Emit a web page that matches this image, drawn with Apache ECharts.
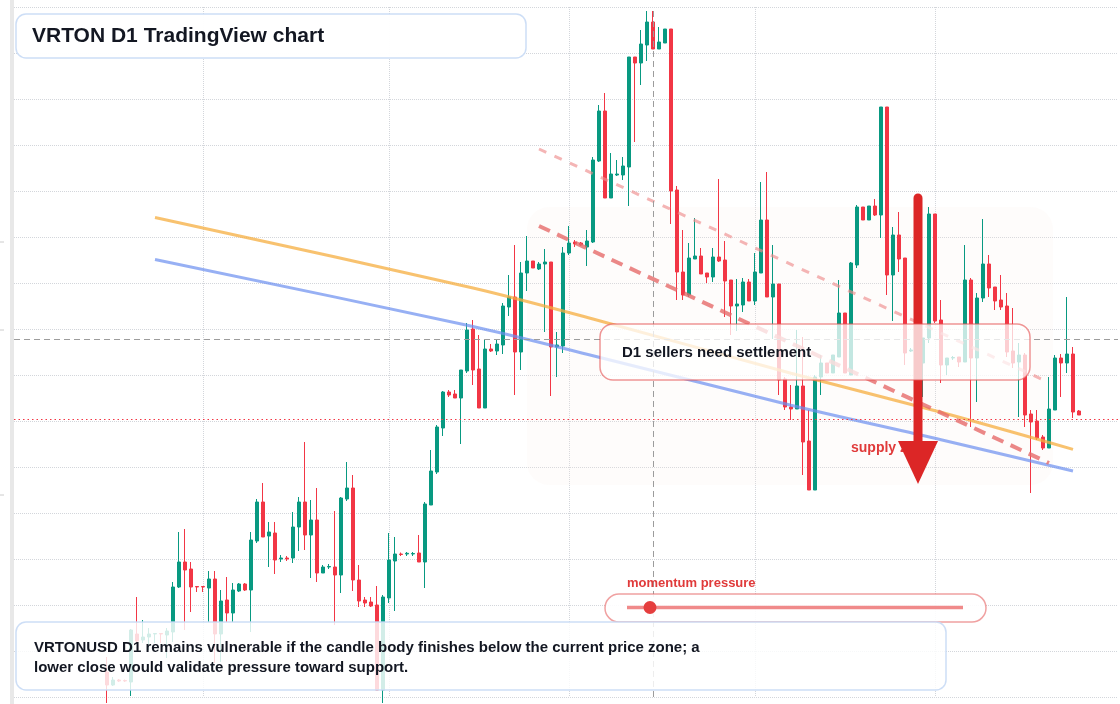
<!DOCTYPE html>
<html><head><meta charset="utf-8">
<script src="https://cdn.jsdelivr.net/npm/echarts/dist/echarts.min.js"></script>
<style>html,body{margin:0;padding:0;background:#fff}#c{width:1120px;height:704px}</style>
</head><body><div id="c"></div>
<script>
// ---- data ----
const axisStart = '2024-07-01';
const axisEnd = '2024-12-31';
const firstCandle = '2024-07-16';
const openP = [.117,.104,.109,.1085,.107,.155,.149,.152,.155,.1555,
.154,.157,.202,.227,.220,.2025,.2025,.201,.210,.155,
.189,.176,.198,.205,.199,.248,.287,.253,.256,.230,
.231,.231,.262,.287,.254,.269,.216,.222,.222,.214,
.290,.301,.209,.189,.187,.184,.099,.191,.228,.235,
.235,.235,.236,.227,.284,.317,.361,.397,.395,.391,
.418,.460,.420,.381,.440,.438,.444,.482,.492,.437,
.516,.528,.520,.525,.527,.442,.443,.536,.547,.546,
.542,.547,.628,.678,.591,.614,.614,.622,.732,.726,
.744,.767,.740,.746,.760,.599,.517,.494,.530,.533,
.516,.512,.532,.529,.509,.483,.484,.507,.488,.516,
.569,.492,.505,.410,.382,.380,.403,.348,.299,.412,
.426,.416,.432,.476,.414,.524,.582,.569,.583,.574,
.682,.514,.554,.531,.438,.437,.426,.451,.575,.469,
.424,.431,.432,.427,.509,.431,.491,.525,.502,.489,
.483,.438,.427,.434,.375,.368,.352,.341,.379,.431,
.426,.435,.378];
const closeP = [.104,.109,.108,.108,.159,.148,.152,.155,.1555,.155,
.158,.202,.227,.219,.202,.202,.202,.210,.155,.188,
.176,.199,.205,.199,.249,.287,.252,.257,.229,.231,
.230,.262,.287,.254,.269,.216,.222,.2225,.214,.291,
.301,.209,.188,.186,.183,.099,.192,.229,.235,.2345,
.2357,.2355,.227,.285,.318,.362,.397,.394,.391,.419,
.459,.419,.381,.440,.438,.445,.483,.492,.437,.516,
.528,.521,.525,.527,.442,.444,.536,.546,.545,.544,
.548,.629,.678,.591,.615,.615,.623,.732,.726,.745,
.767,.740,.747,.760,.598,.517,.494,.531,.533,.515,
.512,.532,.528,.508,.483,.485,.507,.488,.517,.569,
.492,.505,.409,.382,.380,.403,.347,.299,.412,.426,
.416,.434,.476,.416,.526,.582,.569,.583,.574,.682,
.514,.554,.530,.436,.439,.449,.451,.575,.468,.424,
.431,.4315,.427,.509,.431,.491,.525,.501,.488,.482,
.437,.426,.434,.374,.367,.351,.341,.380,.431,.426,
.435,.377,.374];
const lowP = [.086,.103,.107,.107,.093,.146,.146,.139,.146,.146,
.131,.147,.201,.159,.177,.197,.197,.167,.126,.127,
.167,.167,.197,.198,.157,.246,.252,.222,.215,.227,
.228,.226,.238,.239,.211,.207,.216,.220,.164,.196,
.288,.198,.182,.182,.182,.099,.086,.186,.178,.233,
.233,.233,.227,.201,.284,.315,.353,.392,.391,.345,
.416,.404,.381,.381,.437,.434,.435,.473,.394,.419,
.498,.521,.519,.457,.393,.412,.436,.534,.542,.543,
.523,.546,.627,.591,.591,.613,.609,.583,.647,.704,
.728,.740,.740,.746,.565,.489,.489,.492,.530,.515,
.506,.507,.527,.472,.454,.458,.477,.488,.484,.516,
.492,.450,.394,.379,.369,.380,.314,.299,.299,.394,
.416,.416,.432,.416,.414,.521,.569,.569,.573,.551,
.494,.468,.517,.424,.437,.429,.392,.446,.466,.406,
.414,.429,.422,.427,.362,.387,.487,.492,.479,.479,
.432,.421,.372,.362,.296,.349,.339,.341,.379,.392,
.416,.371,.374];
const highP = [.132,.112,.110,.1095,.160,.192,.169,.161,.1555,.156,
.161,.207,.257,.260,.227,.2025,.2025,.218,.218,.199,
.212,.206,.206,.206,.257,.290,.306,.267,.267,.234,
.233,.277,.292,.347,.289,.301,.224,.225,.278,.292,
.327,.314,.224,.192,.192,.203,.194,.256,.252,.2365,
.237,.237,.254,.287,.339,.364,.398,.399,.399,.419,
.466,.469,.454,.450,.445,.450,.486,.514,.544,.527,
.553,.528,.527,.540,.527,.457,.542,.563,.549,.547,
.559,.632,.684,.696,.636,.629,.632,.732,.732,.759,
.778,.778,.762,.760,.760,.603,.559,.546,.571,.541,
.516,.541,.610,.548,.509,.510,.511,.510,.536,.607,
.617,.544,.505,.412,.404,.459,.452,.379,.414,.434,
.426,.434,.509,.476,.527,.584,.582,.583,.590,.682,
.682,.562,.577,.531,.441,.454,.451,.582,.575,.489,
.431,.433,.432,.544,.511,.496,.570,.534,.502,.514,
.496,.481,.446,.436,.379,.379,.354,.412,.434,.435,
.492,.442,.379];

// trend overlays (date, price)
const orangeDates = ['2024-07-24','2024-09-15','2024-10-05','2024-11-07','2024-12-02','2024-12-24'];
const orangeVals  = [0.5715, 0.501, 0.470, 0.4157, 0.3767, 0.3396];
const blueDates   = ['2024-07-24','2024-09-15','2024-10-05','2024-11-07','2024-12-02','2024-12-24'];
const blueVals    = [0.5295, 0.4625, 0.4333, 0.3838, 0.3493, 0.318];
const channelDates = ['2024-09-26','2024-12-20'];
const channelUpper = [0.640, 0.4065];
const channelLower = [0.563, 0.326];
const crossDate = '2024-10-15';
const crossPrice = 0.451;
const lastPrice = 0.374;

// y scale
const yMin = 0.092, yMax = 0.782, yStep = 0.046;

// ---- build ----
function fmt(d){return d.toISOString().slice(0,10);}
function dayList(a,b){const out=[];let d=new Date(a+'T00:00:00Z');const e=new Date(b+'T00:00:00Z');while(d<=e){out.push(fmt(d));d=new Date(d.getTime()+86400000);}return out;}
const categories = dayList(axisStart, axisEnd);
const startIdx = categories.indexOf(firstCandle);
const candleData = openP.map((o,i)=>[categories[startIdx+i], o, closeP[i], lowP[i], highP[i]]);
const zip = (ds, vs) => ds.map((d,i)=>[d, vs[i]]);

const FONT = '"Liberation Sans", Arial, Helvetica, sans-serif';
const chart = echarts.init(document.getElementById('c'), null, {renderer:'canvas'});
chart.setOption({
  animation:false,
  backgroundColor:'#ffffff',
  grid:{left:14,right:2,top:7,bottom:7,containLabel:false},
  xAxis:{type:'category',data:categories,boundaryGap:true,
    axisLine:{show:false},axisTick:{show:false},axisLabel:{show:false},
    splitLine:{show:true,alignWithLabel:true,
      interval:(i,v)=> i>0 && v.slice(8)==='01',
      lineStyle:{color:'#d3d6db',type:'dotted',width:1}}},
  yAxis:{type:'value',min:yMin,max:yMax,interval:yStep,scale:false,
    axisLine:{show:false},axisTick:{show:false},axisLabel:{show:false},
    splitLine:{show:true,lineStyle:{color:'#d3d6db',type:'dotted',width:1}}},
  series:[
    {type:'candlestick',name:'VRTONUSD',data:candleData,encode:{x:0,y:[1,2,3,4]},
      barWidth:4,clip:false,z:2,
      itemStyle:{color:'#089981',color0:'#f23645',borderColor:'#089981',borderColor0:'#f23645',borderWidth:1},
      markLine:{silent:true,symbol:['none','none'],label:{show:false},animation:false,
        data:[
          {xAxis:crossDate,lineStyle:{color:'#9c9c9c',type:[6,4],width:1}},
          {yAxis:crossPrice,lineStyle:{color:'#9c9c9c',type:[6,4],width:1}},
          {yAxis:lastPrice,lineStyle:{color:'#f23645',type:[1.5,3],width:1}}
        ]}},
    {type:'line',data:zip(orangeDates,orangeVals),smooth:0.3,showSymbol:false,z:3,silent:true,
      lineStyle:{color:'#f6ad3f',width:3,opacity:0.75}},
    {type:'line',data:zip(blueDates,blueVals),smooth:0.3,showSymbol:false,z:3,silent:true,
      lineStyle:{color:'#6b8ff0',width:3,opacity:0.7}},
    {type:'line',data:zip(channelDates,channelUpper),showSymbol:false,z:3,silent:true,
      lineStyle:{color:'#ee8d8d',width:3,type:[8,9],opacity:0.65}},
    {type:'line',data:zip(channelDates,channelLower),showSymbol:false,z:3,silent:true,
      lineStyle:{color:'#e66a6a',width:4,type:[12,8],opacity:0.8}}
  ],
  graphic:[
    {type:'rect',z:0,silent:true,shape:{x:10,y:0,width:4,height:704},style:{fill:'#e8e8e8'}},
    {type:'line',z:0,silent:true,shape:{x1:0,y1:242,x2:4,y2:242},style:{stroke:'#cccccc',lineWidth:1}},
    {type:'line',z:0,silent:true,shape:{x1:0,y1:330,x2:4,y2:330},style:{stroke:'#cccccc',lineWidth:1}},
    {type:'line',z:0,silent:true,shape:{x1:0,y1:495,x2:4,y2:495},style:{stroke:'#cccccc',lineWidth:1}},
    {type:'rect',z:1,silent:true,shape:{x:527,y:207,width:526,height:278,r:22},style:{fill:'rgba(248,236,228,0.16)'}},
    {type:'text',z:10,silent:true,x:851,y:448,style:{text:'supply zone',font:'bold 14px '+FONT,fill:'#e03a3a',verticalAlign:'middle'}},
    {type:'line',z:11,silent:true,shape:{x1:918,y1:198,x2:918,y2:446},style:{stroke:'#dc2626',lineWidth:9,lineCap:'round'}},
    {type:'polygon',z:11,silent:true,shape:{points:[[898,441],[938,441],[918,484]]},style:{fill:'#dc2626'}},
    {type:'rect',z:12,silent:true,shape:{x:600,y:324,width:430,height:56,r:13},style:{fill:'rgba(255,255,255,0.76)',stroke:'rgba(228,80,80,0.6)',lineWidth:1.5}},
    {type:'text',z:13,silent:true,x:622,y:353,style:{text:'D1 sellers need settlement',font:'bold 15px '+FONT,fill:'#131722',verticalAlign:'middle'}},
    {type:'text',z:13,silent:true,x:627,y:583,style:{text:'momentum pressure',font:'bold 13px '+FONT,fill:'#e03a3a',verticalAlign:'middle'}},
    {type:'rect',z:12,silent:true,shape:{x:605,y:594,width:381,height:28,r:14},style:{fill:'rgba(255,255,255,0.9)',stroke:'rgba(232,110,110,0.65)',lineWidth:1.5}},
    {type:'line',z:13,silent:true,shape:{x1:627,y1:607.5,x2:963,y2:607.5},style:{stroke:'#f08a8a',lineWidth:3.5}},
    {type:'circle',z:14,silent:true,shape:{cx:650,cy:607.5,r:6.5},style:{fill:'#e53e3e'}},
    {type:'rect',z:12,silent:true,shape:{x:16,y:622,width:930,height:68,r:10},style:{fill:'rgba(255,255,255,0.82)',stroke:'rgba(200,218,245,0.9)',lineWidth:1.5}},
    {type:'text',z:13,silent:true,x:34,y:648,style:{text:'VRTONUSD D1 remains vulnerable if the candle body finishes below the current price zone; a',font:'bold 15px '+FONT,fill:'#131722',verticalAlign:'middle'}},
    {type:'text',z:13,silent:true,x:34,y:668,style:{text:'lower close would validate pressure toward support.',font:'bold 15px '+FONT,fill:'#131722',verticalAlign:'middle'}},
    {type:'rect',z:12,silent:true,shape:{x:16,y:14,width:510,height:44,r:10},style:{fill:'rgba(255,255,255,0.97)',stroke:'rgba(200,218,245,0.9)',lineWidth:1.5}},
    {type:'text',z:13,silent:true,x:32,y:36,style:{text:'VRTON D1 TradingView chart',font:'bold 21px '+FONT,fill:'#131722',verticalAlign:'middle'}}
  ]
});
</script>
</body></html>
